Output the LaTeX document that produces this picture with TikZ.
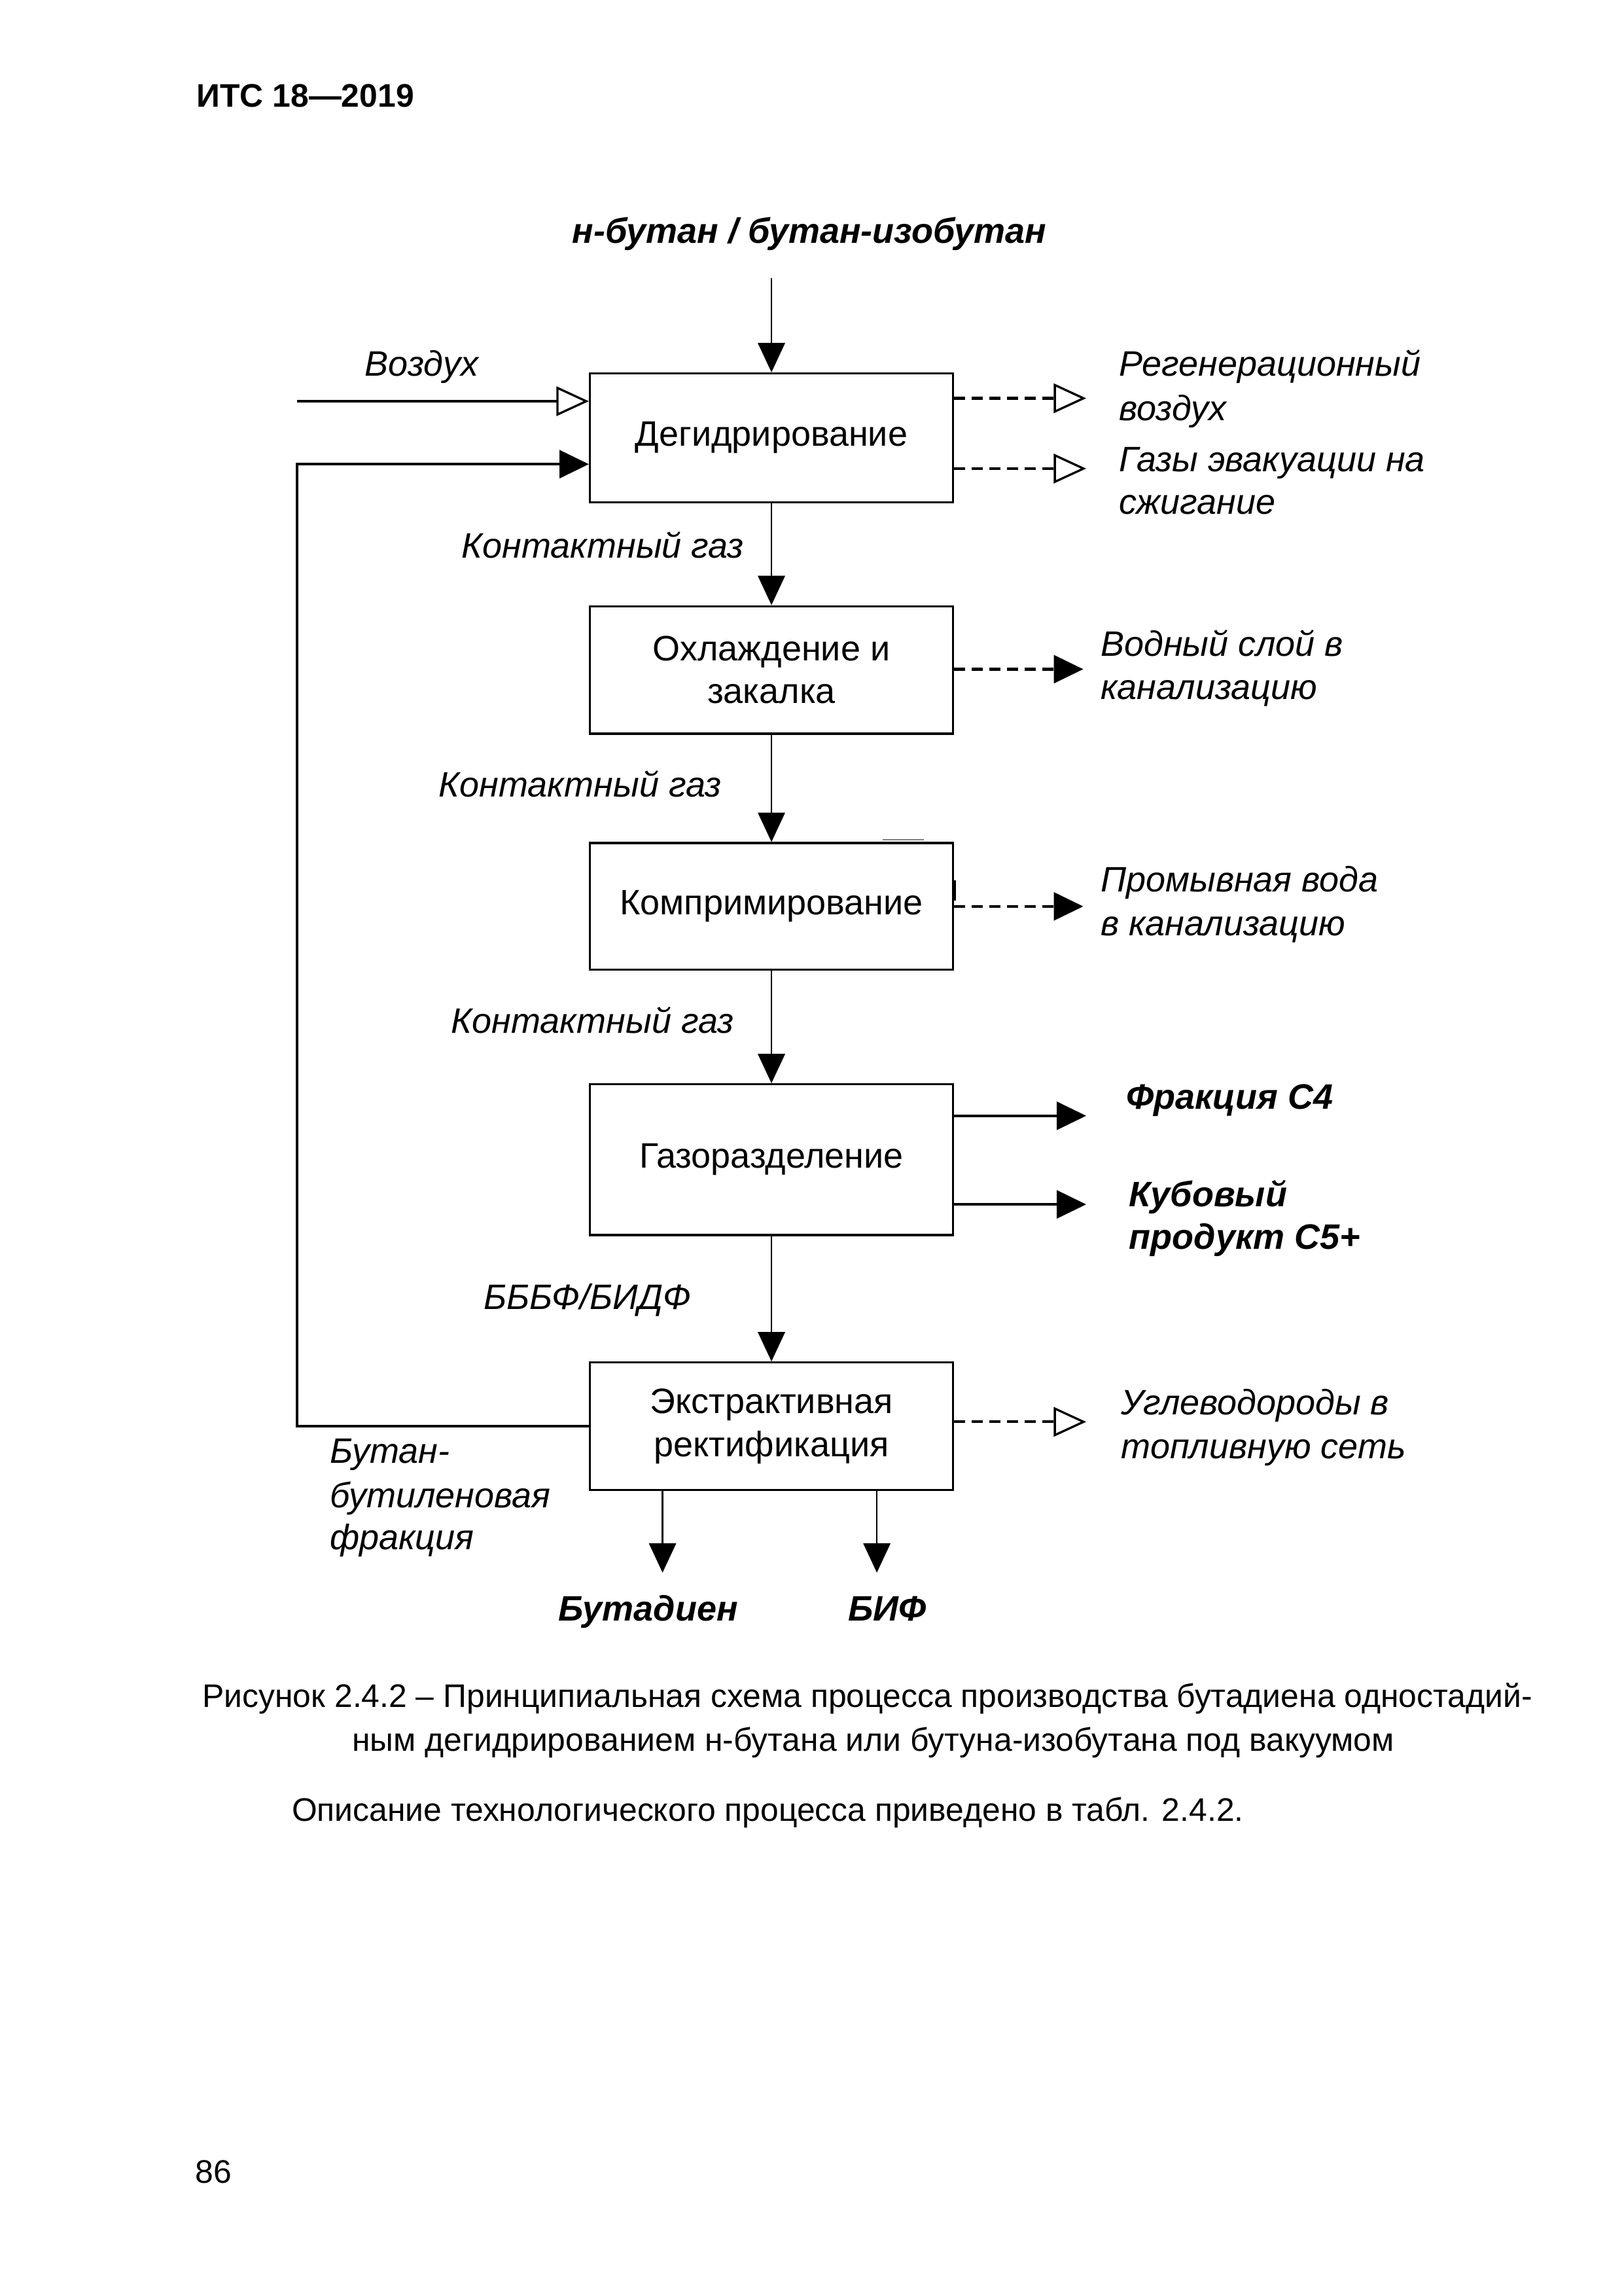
\documentclass[tikz,border=0pt]{standalone}
\usepackage{fontspec}
\setmainfont{Liberation Sans}
\usetikzlibrary{arrows.meta}
\newcommand\diagfs{\fontsize{13}{15.8}\selectfont}
\newcommand\capfs{\fontsize{12}{14}\selectfont}
\begin{document}
\begin{tikzpicture}[x=0.18937mm,y=-0.18937mm,
  box/.style={draw,line width=0.8pt,minimum width=46.96mm,inner sep=0pt,align=center,font=\diagfs},
  lbl/.style={inner sep=0pt,anchor=base west,font=\diagfs\itshape},
  blbl/.style={inner sep=0pt,anchor=base west,font=\diagfs\bfseries\itshape},
  captxt/.style={inner sep=0pt,anchor=base west,font=\capfs},
  flow/.style={line width=0.6pt,-{Triangle[length=3.8mm,width=3.5mm]}},
  thickl/.style={line width=1pt},
  fillhead/.style={-{Triangle[length=3.8mm,width=3.6mm]}},
  openhead/.style={-{Triangle[open,length=4.2mm,width=3.8mm,line width=0.8pt]}},
  dashl/.style={line width=1pt,dash pattern=on 4pt off 2.5pt}
]
\useasboundingbox (0,0) rectangle (1109,1568);

% header
\node[inner sep=0pt,anchor=base west,font=\capfs\bfseries] (hdr) at (134,73.3) {ИТС 18—2019};

% boxes
\node[box,minimum height=16.66mm] (b1) at (527,299) {Дегидрирование};
\node[box,minimum height=16.48mm] (b2) at (527,457.5) {Охлаждение и\\закалка};
\node[box,minimum height=16.38mm] (b3) at (527,619) {Компримирование};
\node[box,minimum height=19.5mm]  (b4) at (527,792) {Газоразделение};
\node[box,minimum height=16.48mm] (b5) at (527,974) {Экстрактивная\\ректификация};

% feed
\node[inner sep=0pt,anchor=base,font=\diagfs\bfseries\itshape] (feedl) at (553,166) {н-бутан / бутан-изобутан};
\coordinate (feed) at (527,190);
\draw[flow] (feed) -- (b1.north);
\draw[flow] (b1.south) -- (b2.north);
\draw[flow] (b2.south) -- (b3.north);
\draw[flow] (b3.south) -- (b4.north);
\draw[flow] (b4.south) -- (b5.north);

% air
\coordinate (airs) at (203,274);
\draw[thickl,openhead] (airs) -- (b1.west |- airs);
\node[lbl] (airl) at (249,257) {Воздух};

% recycle
\coordinate (rc) at (203,317);
\draw[thickl,fillhead] (b5.west) -| (rc) -- (b1.west |- rc);

% side outlets
\coordinate (o1) at (742,272);
\coordinate (o2) at (742,320);
\coordinate (o3) at (740,457);
\coordinate (o4) at (740,619);
\coordinate (o5) at (742,762);
\coordinate (o6) at (742,822.5);
\coordinate (o7) at (742,971);
\draw[dashl,openhead] (b1.east |- o1) -- (o1);
\draw[dashl,openhead] (b1.east |- o2) -- (o2);
\draw[dashl,fillhead] (b2.east |- o3) -- (o3);
\draw[dashl,fillhead] (b3.east |- o4) -- (o4);
\draw[thickl,fillhead] (b4.east |- o5) -- (o5);
\draw[thickl,fillhead] (b4.east |- o6) -- (o6);
\draw[dashl,openhead] (b5.east |- o7) -- (o7);

% scan artefacts at the compression box
\draw[line width=1.1pt] (652,601) -- (652,615);
\draw[line width=0.4pt,gray] (603,573.5) -- (631,573.5);

% bottom outputs
\coordinate (p1) at (452.6,1074);
\coordinate (p2) at (599,1074);
\draw[flow] (b5.south -| p1) -- (p1);
\draw[flow] (b5.south -| p2) -- (p2);

% labels
\node[lbl] (l1a) at (764,257) {Регенерационный};
\node[lbl] (l1b) at (764,287) {воздух};
\node[lbl] (l2a) at (764,322) {Газы эвакуации на};
\node[lbl] (l2b) at (764,351) {сжигание};
\node[lbl] (k1) at (315,381) {Контактный газ};
\node[lbl] (l3a) at (751.5,448) {Водный слой в};
\node[lbl] (l3b) at (751.5,477.5) {канализацию};
\node[lbl] (k2) at (299.5,544) {Контактный газ};
\node[lbl] (l4a) at (751.5,609) {Промывная вода};
\node[lbl] (l4b) at (751.5,639) {в канализацию};
\node[lbl] (k3) at (308,705.5) {Контактный газ};
\node[blbl] (l5) at (769,757.6) {Фракция С4};
\node[blbl] (l6a) at (771,824) {Кубовый};
\node[blbl] (l6b) at (771,853) {продукт С5+};
\node[lbl] (k4) at (330,894) {БББФ/БИДФ};
\node[lbl] (l7a) at (765.6,966) {Углеводороды в};
\node[lbl] (l7b) at (765.6,996) {топливную сеть};
\node[lbl] (r1) at (225,999) {Бутан-};
\node[lbl] (r2) at (225,1029.6) {бутиленовая};
\node[lbl] (r3) at (225,1058) {фракция};
\node[blbl] (pr1) at (381,1107) {Бутадиен};
\node[blbl] (pr2) at (579,1107) {БИФ};

% caption
\node[captxt] (c1) at (138,1166) {Рисунок 2.4.2 – Принципиальная схема процесса производства бутадиена одностадий-};
\node[inner sep=0pt,anchor=base,font=\capfs] (c2) at (596.5,1196) {ным дегидрированием н-бутана или бутуна-изобутана под вакуумом};
\node[captxt] (c3) at (199,1243.5) {Описание технологического процесса приведено в табл. 2.4.2.};
\node[captxt] (pg) at (133,1491) {86};
\end{tikzpicture}
\end{document}
